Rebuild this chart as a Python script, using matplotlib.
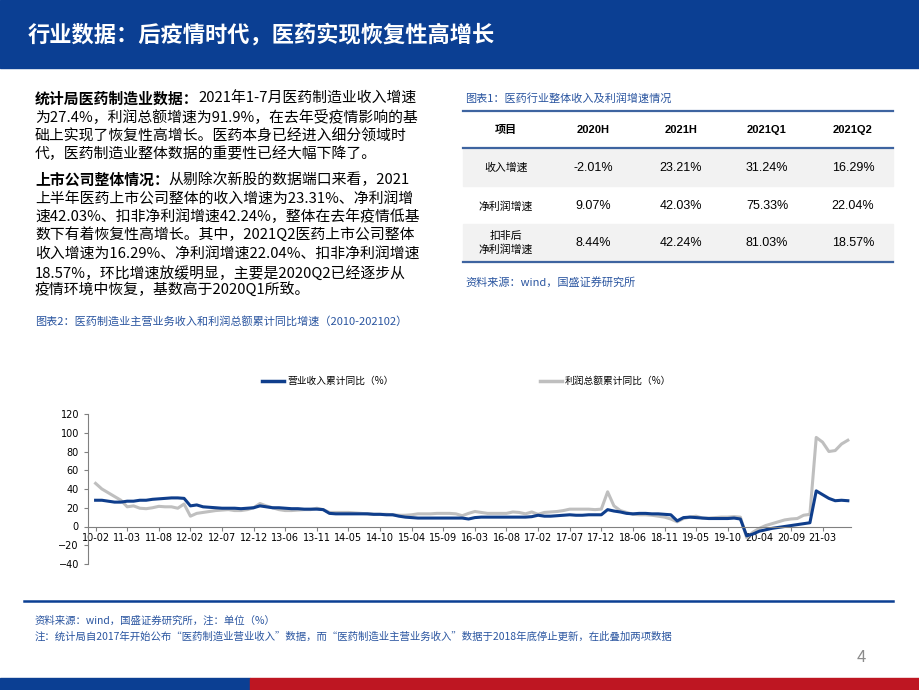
import matplotlib
matplotlib.use("Agg")
import matplotlib.pyplot as plt
from matplotlib.lines import Line2D
from matplotlib.patches import Rectangle

plt.rcParams["font.family"] = ["Noto Sans CJK SC", "DejaVu Sans"]

tick_labels = ["10-02","11-03","11-08","12-02","12-07","12-12","13-06","13-11","14-05","14-10",
               "15-04","15-09","16-03","16-08","17-02","17-07","17-12","18-06","18-11","19-05",
               "19-10","20-04","20-09","21-03"]
revenue = [28,28,27,26,26, 27,27,28,28,29, 29.5,30,30.5,30.5,30,
           22,23,21,20.5,20,19.5,19.5,19.5,19,19.5,20,22,21,20,20,19.5,19,19,18.5,18.5,18.5,18,
           14,13.5,13.5,13.5,13.5,13.5,13.5,13,13,12.5,12.5,11,10,9.5,9,9,9,9,9,9,9,9,8,
           9.5,10,10,10,10,10,10,10,10,10.5,12,11,11,11.5,12,12.5,12,12,12.5,12.5,12.5,
           18,16.5,15.5,14,13.5,14,14,13.5,13.5,13,12.5,6,9.5,10,9.5,9,8.5,8.5,8.5,8.5,9,8,
           -10,-8,-5,-3.5,-2,-1,0,1,2,3,4,38,34,30,27.5,28,27.5]
profit = [46,40,36,32,28,21,22,19.5,19,20,21.5,21,21,19.5,24,
          11,14,15,16,17,17.5,18,17,17,18,20,24.5,22,20,18,17,17,17.5,18,18,19.5,18,
          15,15,15,15,14.5,14,13.5,13,13,13,12.5,12,12,12.5,13.5,13.5,13.5,14,14,14,13.5,11.5,
          14,16,15,14,14,14,14,15.5,15,13.5,15.5,13,15,15.5,16,17,18.5,18.5,18.5,18.5,18,18.5,
          37,22,17,15,13,12.5,12.5,12,11,10,8,5,8.5,10,11,9,9,9.5,10,10,10.5,10,
          -12,-6,-2,1,3,5,7,8,8.5,12,13,95,90,80,81,88,92]
series_names = ["营业收入累计同比（%）", "利润总额累计同比（%）"]

tbl_cols = ["项目", "2020H", "2021H", "2021Q1", "2021Q2"]
tbl_rows = ["收入增速", "净利润增速", "扣非后\n净利润增速"]
tbl_vals = [["-2.01%", "23.21%", "31.24%", "16.29%"],
            ["9.07%", "42.03%", "75.33%", "22.04%"],
            ["8.44%", "42.24%", "81.03%", "18.57%"]]

W, H = 920, 690
fig = plt.figure(figsize=(9.2, 6.9), dpi=100)
BLUE = "#0B3F93"
TBLUE = "#2A55A0"

def fx(x): return x / W
def fy(y): return 1 - y / H

fig.patches.append(Rectangle((0, fy(68)), 1, 68 / H, transform=fig.transFigure, color=BLUE))
fig.text(fx(28), fy(35), "行业数据：后疫情时代，医药实现恢复性高增长", color="white",
         fontsize=16, fontweight="bold", va="center")
fig.patches.append(Rectangle((0, 0), 250 / W, 12 / H, transform=fig.transFigure, color="#0B3F93"))
fig.patches.append(Rectangle((250 / W, 0), 1 - 250 / W, 12 / H, transform=fig.transFigure, color="#BE1622"))
fig.text(fx(861), fy(658), "4", color="#8C8C8C", fontsize=12, va="center", ha="center")

renderer = fig.canvas.get_renderer()
lines = [
    (99, "统计局医药制造业数据：", "2021年1-7月医药制造业收入增速"),
    (117, "", "为27.4%，利润总额增速为91.9%，在去年受疫情影响的基"),
    (136, "", "础上实现了恢复性高增长。医药本身已经进入细分领域时"),
    (154, "", "代，医药制造业整体数据的重要性已经大幅下降了。"),
    (180, "上市公司整体情况：", "从剔除次新股的数据端口来看，2021"),
    (199, "", "上半年医药上市公司整体的收入增速为23.31%、净利润增"),
    (217, "", "速42.03%、扣非净利润增速42.24%，整体在去年疫情低基"),
    (235, "", "数下有着恢复性高增长。其中，2021Q2医药上市公司整体"),
    (254, "", "收入增速为16.29%、净利润增速22.04%、扣非净利润增速"),
    (273, "", "18.57%，环比增速放缓明显，主要是2020Q2已经逐步从"),
    (290, "", "疫情环境中恢复，基数高于2020Q1所致。"),
]
for y, b, t in lines:
    x = fx(35)
    if b:
        tb = fig.text(x, fy(y), b, fontsize=10.7, fontweight="bold", va="center", color="black")
        bb = tb.get_window_extent(renderer)
        x = bb.x1 / W
    fig.text(x, fy(y), t, fontsize=10.7, va="center", color="black")

fig.text(fx(465), fy(98), "图表1：医药行业整体收入及利润增速情况", fontsize=8, color=TBLUE,
         style="italic", va="center")
for (y0, y1) in [(149, 186), (224, 262)]:
    fig.patches.append(Rectangle((fx(463), fy(y1)), (893 - 463) / W, (y1 - y0) / H,
                                 transform=fig.transFigure, color="#F2F2F2"))
for y, lw in [(111, 1.6), (148, 1.6), (262, 1.6)]:
    fig.add_artist(Line2D([fx(463), fx(893)], [fy(y), fy(y)], color="#3E64A0", lw=lw))
col_x = [506, 593, 681, 767, 853]
for i, c in enumerate(tbl_cols):
    fig.text(fx(col_x[i]), fy(130), c, fontsize=8, fontweight="bold", ha="center", va="center",
             family=["Liberation Sans", "Noto Sans CJK SC"])
row_y = [168, 206, 243]
for r, name in enumerate(tbl_rows):
    fig.text(fx(col_x[0]), fy(row_y[r]), name, fontsize=7.8, ha="center", va="center",
             linespacing=1.4)
    for c, v in enumerate(tbl_vals[r]):
        fig.text(fx(col_x[c + 1]), fy(row_y[r]), v, fontsize=9, ha="center", va="center",
                 family="Liberation Sans")
fig.text(fx(465), fy(282), "资料来源：wind，国盛证券研究所", fontsize=8, color=TBLUE,
         style="italic", va="center")

fig.text(fx(35), fy(321), "图表2：医药制造业主营业务收入和利润总额累计同比增速（2010-202102）",
         fontsize=8, color=TBLUE, style="italic", va="center")

ax = fig.add_axes([fx(88), fy(564), fx(851) - fx(88), (564 - 414) / H])
x = list(range(len(revenue)))
ax.plot(x, profit, color="#BFBFBF", lw=2.2, solid_joinstyle="round")
ax.plot(x, revenue, color="#0F3E8C", lw=2.2, solid_joinstyle="round")
ax.set_xlim(-1.2, 119.5)
ax.set_ylim(-40, 120)
ax.set_yticks(range(-40, 121, 20))
ax.set_xticks(range(0, 5 * len(tick_labels), 5))
ax.set_xticklabels(tick_labels)
ax.spines["bottom"].set_position(("data", 0))
for s in ["top", "right"]:
    ax.spines[s].set_visible(False)
ax.spines["bottom"].set_color("#808080")
ax.spines["left"].set_color("#808080")
ax.tick_params(axis="both", labelsize=7, colors="#808080", labelcolor="black", length=3)
ax.tick_params(axis="x", pad=2)
for lab in ax.get_xticklabels() + ax.get_yticklabels():
    lab.set_family("DejaVu Sans")

for (x0, name, col) in [(262, series_names[0], "#0F3E8C"), (540, series_names[1], "#BFBFBF")]:
    fig.add_artist(Line2D([fx(x0), fx(x0 + 22)], [fy(381), fy(381)], color=col, lw=2.5))
    fig.text(fx(x0 + 25), fy(381), name, fontsize=7, va="center")

fig.add_artist(Line2D([fx(24), fx(893)], [fy(601), fy(601)], color="#0B3F93", lw=1.8))
fig.text(fx(35), fy(621), "资料来源：wind，国盛证券研究所，注：单位（%）", fontsize=7.5,
         color=TBLUE, style="italic", va="center")
fig.text(fx(35), fy(637), "注：统计局自2017年开始公布“医药制造业营业收入”数据，而“医药制造业主营业务收入”数据于2018年底停止更新，在此叠加两项数据",
         fontsize=7.5, color=TBLUE, style="italic", va="center")

fig.savefig("out.png", dpi=100)
